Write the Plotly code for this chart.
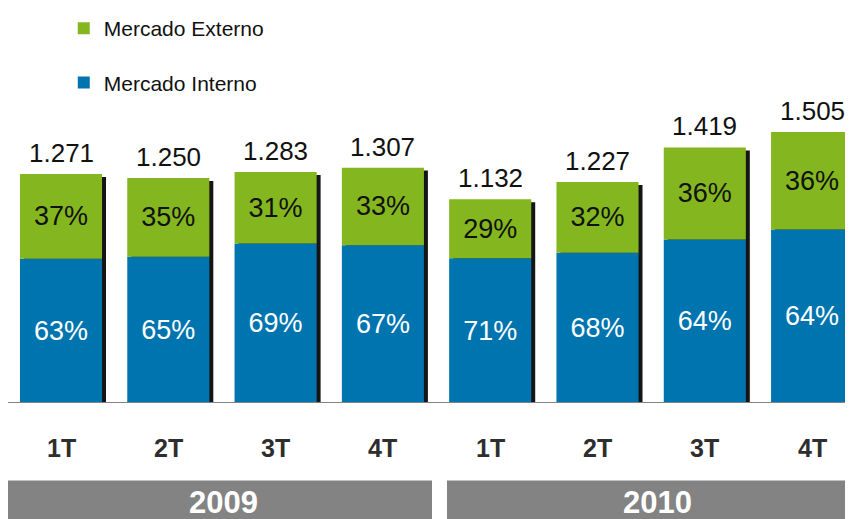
import plotly.graph_objects as go

# data
quarters = ['1T', '2T', '3T', '4T', '1T', '2T', '3T', '4T']
years = ['2009', '2010']
totals = [1271, 1250, 1283, 1307, 1132, 1227, 1419, 1505]
pct_interno = [63, 65, 69, 67, 71, 68, 64, 64]
pct_externo = [37, 35, 31, 33, 29, 32, 36, 36]

azul = '#0074AF'
verde = '#84B71F'
cinza = '#838383'
fonte = 'Liberation Sans, Arial, sans-serif'

W, H = 845, 511       # page adds an 8px body margin
base_px = 395         # baseline position from the top of the figure
px_unit = 5.525       # data units per pixel on the value axis

xs = list(range(len(quarters)))
interno = [t * p / 100 for t, p in zip(totals, pct_interno)]
externo = [t * p / 100 for t, p in zip(totals, pct_externo)]

bw = 0.765
fig = go.Figure()

# little drop shadow behind each bar
fig.add_bar(x=[x + 0.037 for x in xs], y=totals, base=[-3 * px_unit] * len(xs), width=bw,
            marker=dict(color='#151515', line_width=0), showlegend=False, hoverinfo='skip')

fig.add_bar(x=xs, y=interno, base=0, width=bw, name='Mercado Interno',
            marker=dict(color=azul, line_width=0), legendrank=2, legendgroup='i',
            text=[f'{p}%' for p in pct_interno], textposition='inside',
            insidetextanchor='middle', textangle=0, hoverinfo='skip',
            textfont=dict(family=fonte, size=27, color='white'))

fig.add_bar(x=xs, y=externo, base=interno, width=bw, name='Mercado Externo',
            marker=dict(color=verde, line_width=0), legendrank=1, legendgroup='e',
            text=[f'{p}%' for p in pct_externo], textposition='inside',
            insidetextanchor='middle', textangle=0, hoverinfo='skip',
            textfont=dict(family=fonte, size=27, color='#111111'))

# totals above the bars
for x, t in zip(xs, totals):
    fig.add_annotation(x=x, y=t, xref='x', yref='y', text=f'{t:,}'.replace(',', '.'),
                       showarrow=False, yanchor='bottom', yshift=4,
                       font=dict(family=fonte, size=26, color='#111111'))

# baseline
fig.add_shape(type='line', xref='paper', yref='y', x0=0, x1=1, y0=0, y1=0,
              line=dict(color=cinza, width=2))

# quarter labels
for x, q in zip(xs, quarters):
    fig.add_annotation(x=x, y=-45 / base_px, xref='x', yref='paper', text='<b>' + q + '</b>',
                       showarrow=False, xanchor='center', yanchor='middle',
                       font=dict(family=fonte, size=25, color='#2e2e2e'))

# year bands
bandas = [(0, 424 / W), (439 / W, 1)]
centros = [215 / W, 649 / W]
for (b0, b1), c, ano in zip(bandas, centros, years):
    fig.add_shape(type='rect', xref='paper', yref='paper', x0=b0, x1=b1,
                  y0=-(473 - base_px) / base_px, y1=-(H + 4 - base_px) / base_px,
                  fillcolor=cinza, line_width=0, layer='below')
    fig.add_annotation(x=c, y=-(495 - base_px) / base_px, xref='paper', yref='paper',
                       text='<b>' + ano + '</b>', showarrow=False,
                       xanchor='center', yanchor='middle',
                       font=dict(family=fonte, size=31, color='white'))

fig.update_layout(
    width=W, height=H,
    margin=dict(l=0, r=0, t=0, b=H - base_px),
    paper_bgcolor='white', plot_bgcolor='white',
    barmode='overlay',
    font=dict(family=fonte, color='#111111'),
    legend=dict(x=0.066, xanchor='left', y=1.006, yanchor='top', bgcolor='rgba(0,0,0,0)',
                font=dict(family=fonte, size=21, color='#111111'), tracegroupgap=24,
                itemclick=False),
    xaxis=dict(range=[-53 / 107.3, -53 / 107.3 + W / 107.3], showticklabels=False,
               showgrid=False, zeroline=False, showline=False, fixedrange=True),
    yaxis=dict(range=[0, base_px * px_unit], showticklabels=False, showgrid=False,
               zeroline=False, showline=False, fixedrange=True),
    uniformtext=dict(mode='show', minsize=10),
)

fig.write_html('out.html')
